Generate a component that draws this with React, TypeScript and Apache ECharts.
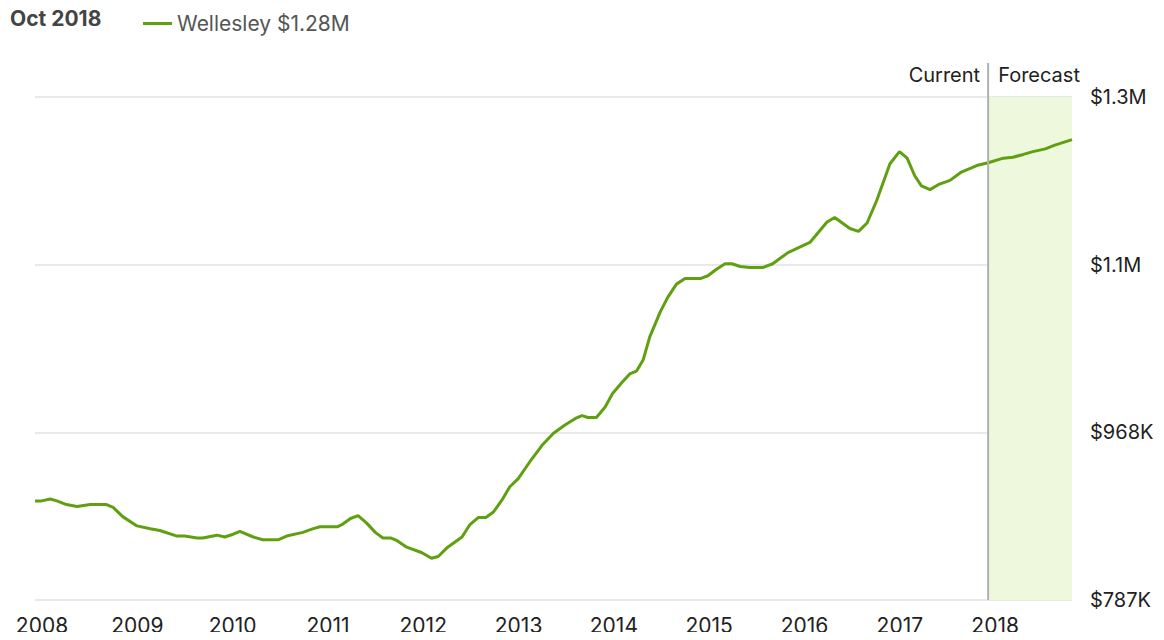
import React, { useEffect, useRef } from "react";
import * as echarts from "echarts";

// x positions as decimal years, values in $K
const years = [
  2008.0, 2008.07, 2008.16, 2008.23, 2008.33, 2008.44, 2008.58, 2008.75, 2008.82, 2008.92,
  2009.07, 2009.21, 2009.31, 2009.49, 2009.57, 2009.7, 2009.76, 2009.91, 2009.99,
  2010.08, 2010.15, 2010.29, 2010.39, 2010.55, 2010.64, 2010.81, 2010.92, 2010.99,
  2011.17, 2011.23, 2011.31, 2011.39, 2011.48, 2011.57, 2011.65, 2011.73, 2011.8, 2011.9,
  2012.06, 2012.16, 2012.23, 2012.33, 2012.48, 2012.56, 2012.65, 2012.73, 2012.81, 2012.9, 2012.98,
  2013.07, 2013.19, 2013.32, 2013.44, 2013.56, 2013.67, 2013.74, 2013.8, 2013.89, 2013.98,
  2014.06, 2014.16, 2014.24, 2014.31, 2014.38, 2014.45, 2014.56, 2014.64, 2014.73, 2014.82, 2014.98,
  2015.06, 2015.15, 2015.24, 2015.31, 2015.4, 2015.5, 2015.64, 2015.74, 2015.9,
  2016.13, 2016.31, 2016.39, 2016.55, 2016.64, 2016.73, 2016.83, 2016.97,
  2017.07, 2017.15, 2017.23, 2017.3, 2017.39, 2017.49, 2017.6, 2017.72, 2017.88,
  2018.0, 2018.16, 2018.26, 2018.37, 2018.47, 2018.6, 2018.7, 2018.79, 2018.88,
];
const valuesK = [
  894, 894, 896, 894, 890, 888, 890, 890, 887, 877,
  867, 864, 862, 856, 856, 854, 854, 857, 855,
  858, 861, 855, 852, 852, 856, 860, 864, 866,
  866, 869, 875, 878, 870, 860, 854, 854, 851, 844,
  838, 832, 834, 844, 855, 868, 876, 876, 882, 895, 909,
  918, 936, 954, 967, 976, 983, 986, 984, 984, 995,
  1010, 1022, 1031, 1034, 1046, 1071, 1098, 1114, 1128, 1134, 1134,
  1137, 1144, 1150, 1150, 1147, 1146, 1146, 1150, 1162,
  1173, 1195, 1200, 1188, 1185, 1194, 1218, 1258,
  1271, 1264, 1245, 1234, 1230, 1236, 1240, 1249, 1256,
  1259, 1264, 1265, 1268, 1271, 1274, 1278, 1281, 1284,
];
const yTickLabels = ["$787K", "$968K", "$1.1M", "$1.3M"];
const yBase = 787;
const yStep = 181;
const xMin = 2008;
const xMax = 2018.88;
const currentYear = 2018;
const seriesName = "Wellesley $1.28M";
const titleText = "Oct 2018";

const GREEN = "#609f10";
const FONT = "Inter";

export default function App() {
  const ref = useRef<HTMLDivElement>(null);
  useEffect(() => {
    if (!ref.current) return;
    const chart = echarts.init(ref.current, undefined, { renderer: "svg" });
    const data = years.map((y, i) => [y, valuesK[i] - yBase]);
    const yMax = yStep * (yTickLabels.length - 1);
    chart.setOption({
      animation: false,
      textStyle: { fontFamily: FONT },
      grid: { left: 35, right: 92, top: 97, bottom: 40 },
      legend: {
        left: 138,
        top: 8,
        itemWidth: 29,
        itemHeight: 3,
        icon: "rect",
        itemGap: 8,
        textStyle: { fontSize: 21, color: "#555", fontFamily: FONT },
        data: [seriesName],
      },
      xAxis: {
        type: "value",
        min: xMin,
        max: xMax,
        interval: 1,
        axisLine: { show: false },
        axisTick: { show: false },
        splitLine: { show: false },
        axisLabel: {
          fontSize: 21,
          color: "#222",
          margin: 15,
          padding: [0, 0, 0, 14],
          formatter: (v: number) => (Number.isInteger(v) ? String(v) : ""),
          showMaxLabel: false,
        },
      },
      yAxis: {
        type: "value",
        position: "right",
        min: 0,
        max: yMax,
        interval: yStep,
        axisLine: { show: false },
        axisTick: { show: false },
        splitLine: { lineStyle: { color: "#e9e9e9", width: 2 } },
        axisLabel: {
          fontSize: 20,
          color: "#222",
          margin: 18,
          formatter: (v: number) => yTickLabels[Math.round(v / yStep)] ?? "",
        },
      },
      series: [
        {
          name: seriesName,
          type: "line",
          data,
          showSymbol: false,
          lineStyle: { color: GREEN, width: 3 },
          itemStyle: { color: GREEN },
          markArea: {
            silent: true,
            itemStyle: { color: "#eef8dd" },
            data: [[{ xAxis: currentYear }, { xAxis: xMax }]],
          },
        },
      ],
    });
    const [cx, topY] = chart.convertToPixel({ gridIndex: 0 }, [currentYear, yMax]) as number[];
    const [, botY] = chart.convertToPixel({ gridIndex: 0 }, [currentYear, 0]) as number[];
    chart.setOption({
      graphic: [
        {
          type: "text",
          left: 10,
          top: 8,
          style: { text: titleText, fontSize: 21, fontWeight: "bold", fill: "#444", fontFamily: FONT },
        },
        {
          type: "line",
          shape: { x1: cx, y1: topY - 34, x2: cx, y2: botY },
          style: { stroke: "#b0b0b0", lineWidth: 2 },
          z: 10,
        },
        {
          type: "text",
          x: cx - 8,
          y: topY - 22,
          style: { text: "Current", fontSize: 20, fill: "#222", align: "right", verticalAlign: "middle", fontFamily: FONT },
        },
        {
          type: "text",
          x: cx + 10,
          y: topY - 22,
          style: { text: "Forecast", fontSize: 20, fill: "#222", align: "left", verticalAlign: "middle", fontFamily: FONT },
        },
      ],
    });
    return () => chart.dispose();
  }, []);
  return <div ref={ref} style={{ width: 1164, height: 640, margin: -8 }} />;
}
